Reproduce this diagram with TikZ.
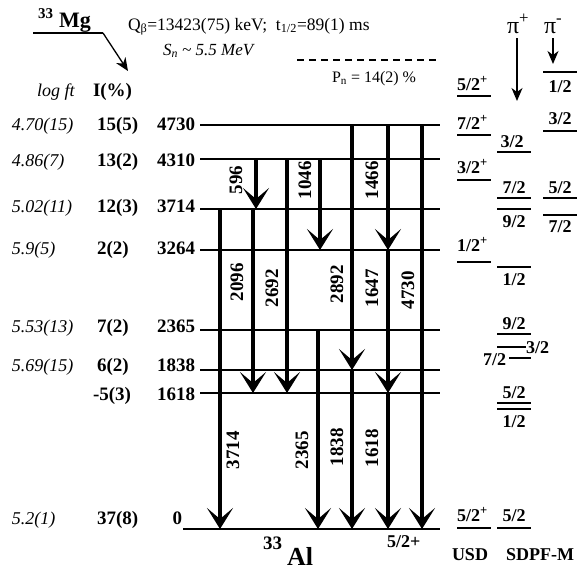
\documentclass[tikz,border=0pt]{standalone}
\usepackage{fontspec}
\setmainfont{Liberation Serif}
\usetikzlibrary{arrows.meta}
\begin{document}
\begin{tikzpicture}[x=1pt,y=-1pt,
  every node/.style={inner sep=0pt,outer sep=0pt},
  lev/.style={line width=1.6pt},
  slev/.style={line width=1.8pt},
  gam/.style={line width=3.2pt,-{Stealth[length=21pt,width=26pt,inset=11pt]}},
  tarr/.style={line width=1.3pt,-{Stealth[length=13pt,width=11pt,inset=4pt]}},
  elab/.style={font=\fontsize{19}{21}\selectfont\bfseries,anchor=base east},
  ilab/.style={font=\fontsize{19}{21}\selectfont\bfseries,anchor=base west},
  flab/.style={font=\fontsize{18}{21}\selectfont\itshape,anchor=base west},
  glab/.style={font=\fontsize{19}{21}\selectfont\bfseries,rotate=90},
  jlab/.style={font=\fontsize{18}{20}\selectfont\bfseries,anchor=base},
  jlabw/.style={font=\fontsize{18}{20}\selectfont\bfseries,anchor=base west},
  toptxt/.style={font=\fontsize{17.5}{19}\selectfont,anchor=base west},
]
\useasboundingbox (0,0) rectangle (581,571);

% ---- header ----
\node[font=\fontsize{15}{16}\selectfont\bfseries,anchor=base west] (mgA) at (38,18) {33};
\node[font=\fontsize{22}{24}\selectfont\bfseries,anchor=base west] (mg) at (59,27) {Mg};
\coordinate (mgL) at (33,33);
\coordinate (mgK) at (103,33);
\coordinate (mgT) at (128,71);
\draw[line width=1.3pt] (mgL) -- (mgK);
\draw[tarr] (mgK) -- (mgT);
\node[toptxt] (qb) at (128,30) {Q\textsubscript{β}=13423(75) keV;~ t\textsubscript{1/2}=89(1) ms};
\node[toptxt,font=\fontsize{17}{18}\selectfont\itshape] (sn) at (163,55) {S\textsubscript{n} \textasciitilde{} 5.5 MeV};
\coordinate (dA) at (297,60);
\coordinate (dB) at (440,60);
\draw[line width=1.4pt,dash pattern=on 7pt off 5pt] (dA) -- (dB);
\node[toptxt,font=\fontsize{16}{18}\selectfont] (pn) at (332,82) {P\textsubscript{n} = 14(2) \%};
\node[flab] (hlog) at (37,96) {log ft};
\node[ilab] (hI) at (93,96) {I(\%)};

% ---- level lines ----
\foreach \e/\y in {4730/125,4310/159,3714/209,3264/250,2365/330,1838/370,1618/393}{
  \coordinate (L\e) at (200,\y);
  \coordinate (R\e) at (440,\y);
  \draw[lev] (L\e) -- (R\e);
}
\coordinate (L0) at (183,529);
\coordinate (R0) at (440,529);
\draw[lev] (L0) -- (R0);

% ---- left columns ----
\foreach \e/\f/\i/\b in {4730/4.70(15)/15(5)/130,4310/4.86(7)/13(2)/166,3714/5.02(11)/12(3)/212,3264/5.9(5)/2(2)/254,2365/5.53(13)/7(2)/332,1838/5.69(15)/6(2)/371}{
  \node[flab] (f\e) at (12,\b) {\f};
  \node[ilab] (i\e) at (97,\b) {\i};
  \node[elab] (e\e) at (195,\b) {\e};
}
\node[ilab] (i1618) at (93,400) {-5(3)};
\node[elab] (e1618) at (195,400) {1618};
\node[flab] (f0) at (12,524) {5.2(1)};
\node[ilab] (i0) at (97,524) {37(8)};
\node[elab] (e0) at (182,524) {0};

% ---- gamma columns ----
\coordinate (cA) at (220,0);
\coordinate (cB) at (256,0);
\coordinate (cBb) at (253,0);
\coordinate (cC) at (287,0);
\coordinate (cD) at (320,0);
\coordinate (cDb) at (318,0);
\coordinate (cE) at (352,0);
\coordinate (cF) at (388,0);
\coordinate (cG) at (422,0);

\draw[gam] (cA |- L3714) -- (cA |- L0);
\draw[gam] (cB |- L4310) -- (cB |- L3714);
\draw[gam] (cBb |- L3714) -- (cBb |- L1618);
\draw[gam] (cC |- L4310) -- (cC |- L1618);
\draw[gam] (cD |- L4310) -- (cD |- L3264);
\draw[gam] (cDb |- L2365) -- (cDb |- L0);
\draw[gam] (cE |- L4730) -- (cE |- L1838);
\draw[gam] (cE |- L1838) -- (cE |- L0);
\draw[gam] (cF |- L4730) -- (cF |- L3264);
\draw[gam] (cF |- L3264) -- (cF |- L1618);
\draw[gam] (cF |- L1618) -- (cF |- L0);
\draw[gam] (cG |- L4730) -- (cG |- L0);

\node[glab] (g596) at (236,180) {596};
\node[glab] (g1046) at (305,180) {1046};
\node[glab] (g1466) at (372,180) {1466};
\node[glab] (g2096) at (237,282) {2096};
\node[glab] (g2692) at (272,288) {2692};
\node[glab] (g2892) at (337,284) {2892};
\node[glab] (g1647) at (372,288) {1647};
\node[glab] (g4730) at (408,290) {4730};
\node[glab] (g3714) at (233,450) {3714};
\node[glab] (g2365) at (302,450) {2365};
\node[glab] (g1838) at (337,447) {1838};
\node[glab] (g1618) at (372,448) {1618};

% ---- bottom labels ----
\node[font=\fontsize{19}{21}\selectfont\bfseries,anchor=base west] (alA) at (263,549) {33};
\node[font=\fontsize{26}{28}\selectfont\bfseries,anchor=base west] (al) at (287,565) {Al};
\node[jlabw] (gs) at (387,547) {5/2+};

% ---- shell model levels ----
\foreach \n/\xa/\xb/\y in {
  a1/457/491/96, a2/457/491/135, a3/457/491/180, a4/457/491/262, a5/457/491/528,
  b1/497/531/152, b2/497/531/198, b3/497/531/209, b4/497/531/267,
  b5/497/531/334, b6/497/526/347, b7/509/531/358, b8/497/531/403, b9/497/531/409, b10/497/531/528,
  c1/543/577/72, c2/543/577/131, c3/543/577/198, c4/543/577/215}{
  \coordinate (s\n a) at (\xa,\y);
  \coordinate (s\n b) at (\xb,\y);
  \draw[slev] (s\n a) -- (s\n b);
}
\node[jlabw] (ta1) at (457,90) {5/2\textsuperscript{+}};
\node[jlabw] (ta2) at (457,129) {7/2\textsuperscript{+}};
\node[jlabw] (ta3) at (457,173) {3/2\textsuperscript{+}};
\node[jlabw] (ta4) at (457,251) {1/2\textsuperscript{+}};
\node[jlabw] (ta5) at (457,521) {5/2\textsuperscript{+}};

\node[jlab] (tb1) at (512,147) {3/2};
\node[jlab] (tb2) at (514,193) {7/2};
\node[jlab] (tb3) at (514,227) {9/2};
\node[jlab] (tb4) at (514,285) {1/2};
\node[jlab] (tb5) at (514,329) {9/2};
\node[jlabw] (tb6) at (526,353) {3/2};
\node[font=\fontsize{18}{20}\selectfont\bfseries,anchor=base east] (tb7) at (506,365) {7/2};
\node[jlab] (tb8) at (514,398) {5/2};
\node[jlab] (tb9) at (514,427) {1/2};
\node[jlab] (tb10) at (514,521) {5/2};

\node[jlab] (tc1) at (560,92) {1/2};
\node[jlab] (tc2) at (560,124) {3/2};
\node[jlab] (tc3) at (560,193) {5/2};
\node[jlab] (tc4) at (560,232) {7/2};

\node[font=\fontsize{24}{26}\selectfont,anchor=base west] (pip) at (507,33) {π\textsuperscript{+}};
\node[font=\fontsize{24}{26}\selectfont,anchor=base west] (pim) at (544,33) {π\textsuperscript{-}};
\coordinate (pipA) at (517,38);
\coordinate (pipB) at (517,101);
\coordinate (pimA) at (553,38);
\coordinate (pimB) at (553,64);
\draw[tarr] (pipA) -- (pipB);
\draw[tarr] (pimA) -- (pimB);

\node[jlab] (usd) at (470,560) {USD};
\node[jlab] (sdpf) at (540,560) {SDPF-M};
\end{tikzpicture}
\end{document}
